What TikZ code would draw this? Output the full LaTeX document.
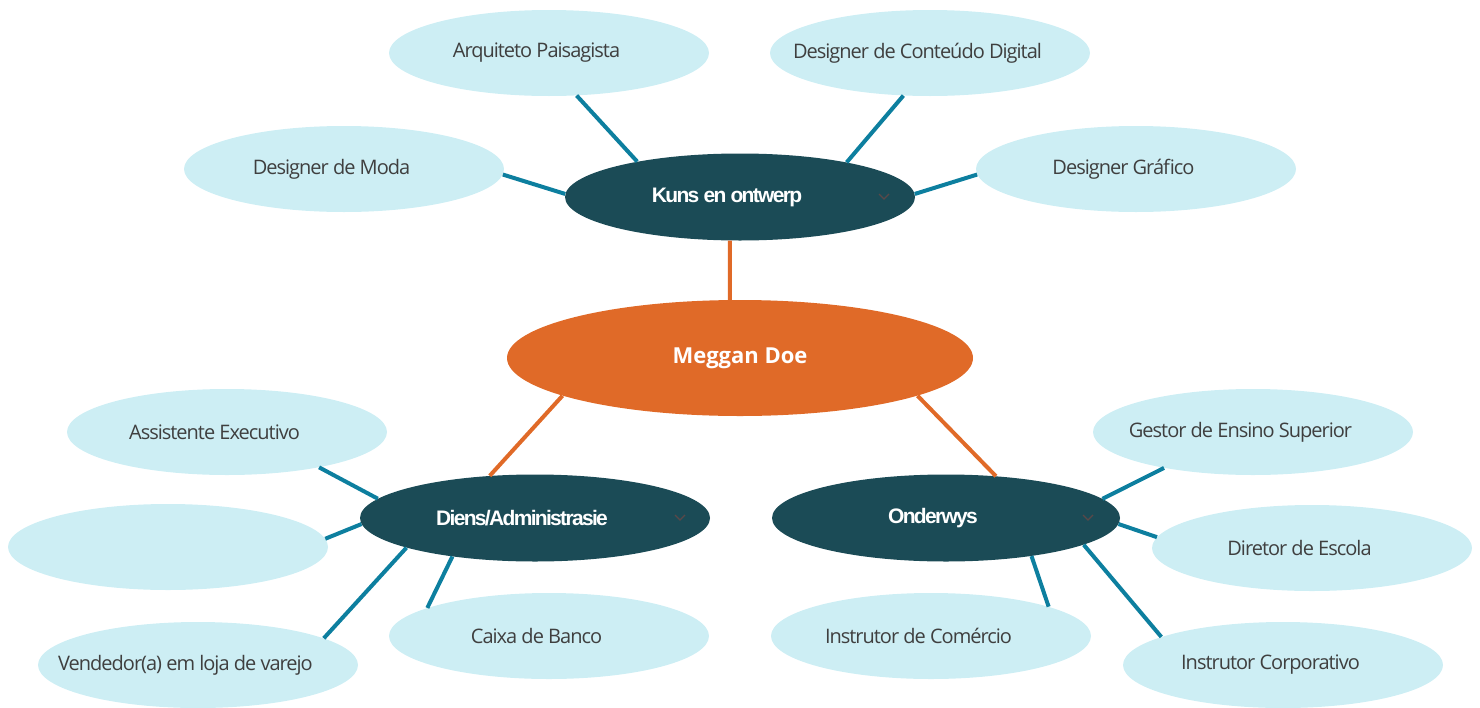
\documentclass[tikz,border=0pt]{standalone}
\usepackage{fontspec}
\setmainfont{Open Sans}
\newfontfamily\leaffont{Open Sans}[LetterSpace=-5]
\newfontfamily\hubfont{Liberation Sans}[LetterSpace=-8]
\usetikzlibrary{shapes.geometric}
\definecolor{leaffill}{HTML}{CDEEF4}
\definecolor{hubfill}{HTML}{1B4B56}
\definecolor{rootfill}{HTML}{E06A28}
\definecolor{tealline}{HTML}{0D7F9F}
\definecolor{leaftext}{HTML}{3F3F3F}
\definecolor{chevgray}{HTML}{5A4848}

\begin{document}
\begin{tikzpicture}[x=1pt, y=-1pt,
  leaf/.style={ellipse, fill=leaffill, minimum width=320, minimum height=86, inner xsep=-30pt, inner ysep=0pt,
    text=leaftext, font=\leaffont\fontsize{20}{24}\selectfont, execute at end node={\hspace*{25pt}}},
  hub/.style={ellipse, fill=hubfill, minimum width=350, minimum height=87, inner sep=0pt,
    text=white, font=\hubfont\bfseries\fontsize{21}{25}\selectfont, execute at end node={\hspace*{26pt}}},
  root/.style={ellipse, fill=rootfill, minimum width=466, minimum height=116, inner sep=0pt,
    text=white, font=\bfseries\fontsize{22}{26}\selectfont},
  twig/.style={draw=tealline, line width=4pt},
  trunk/.style={draw=rootfill, line width=4pt},
  chev/.style={draw=chevgray, line width=1.2pt}]
\useasboundingbox (0,0) rectangle (1480,707);

\node [root] (meggan) at (740,358) {Meggan Doe};
\node [hub] (kuns) at (740,197) {Kuns en ontwerp};
\node [hub] (diens) at (535,518) {Diens/Administrasie};
\node [hub, minimum width=348] (onderwys) at (946,518) {Onderwys};

\node [leaf] (arq) at (549,53) {Arquiteto Paisagista};
\node [leaf] (conteudo) at (930,53) {Designer de Conteúdo Digital};
\node [leaf] (moda) at (344,169) {Designer de Moda};
\node [leaf] (grafico) at (1136,169) {Designer Gráfico};
\node [leaf] (assist) at (227,432) {Assistente Executivo};
\node [leaf] (blank) at (168,547) {};
\node [leaf] (vend) at (198,665) {Vendedor(a) em loja de varejo};
\node [leaf] (caixa) at (549,636) {Caixa de Banco};
\node [leaf] (gestor) at (1253,432) {Gestor de Ensino Superior};
\node [leaf] (diretor) at (1312,548) {Diretor de Escola};
\node [leaf] (comercio) at (931,636) {Instrutor de Comércio};
\node [leaf] (corp) at (1283,665) {Instrutor Corporativo};

\draw[trunk] (meggan.100) -- (kuns.-103);
\draw[trunk] (meggan.192) -- (diens.137);
\draw[trunk] (meggan.-12) -- (onderwys.40);

\draw[twig] (kuns.161) -- (arq.-57);
\draw[twig] (kuns.18) -- (conteudo.238);
\draw[twig] (kuns.179) -- (moda.-2);
\draw[twig] (kuns.1) -- (grafico.182);

\draw[twig] (diens.173) -- (assist.-21);
\draw[twig] (diens.182) -- (blank.3);
\draw[twig] (diens.193) -- (vend.12);
\draw[twig] (diens.205) -- (caixa.167);

\draw[twig] (onderwys.7) -- (gestor.202);
\draw[twig] (onderwys.-2) -- (diretor.176);
\draw[twig] (onderwys.-11) -- (corp.167);
\draw[twig] (onderwys.-24) -- (comercio.14);

\draw[chev] (kuns.center) ++(139,-3) -- ++(5,5) -- ++(5,-5);
\draw[chev] (diens.center) ++(140,-3) -- ++(5,5) -- ++(5,-5);
\draw[chev] (onderwys.center) ++(137,-3) -- ++(5,5) -- ++(5,-5);
\end{tikzpicture}
\end{document}
